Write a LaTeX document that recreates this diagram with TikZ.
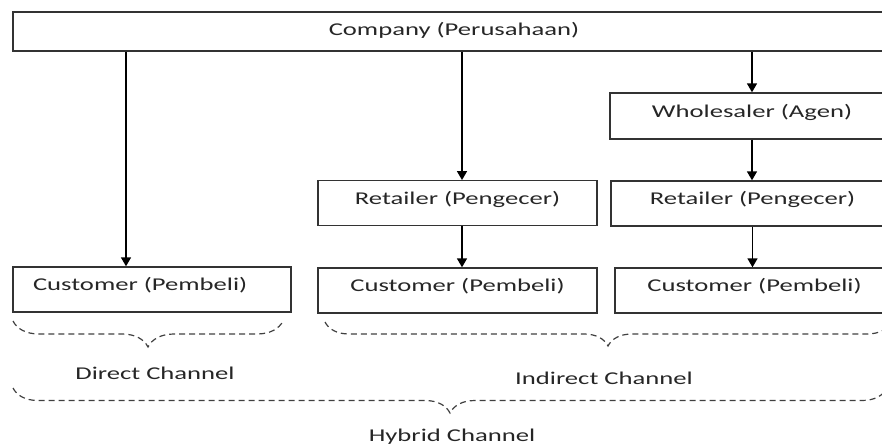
\documentclass[tikz,border=0pt]{standalone}
\usepackage{fontspec}
\setmainfont{Carlito}[FakeStretch=1.48]
\usetikzlibrary{arrows.meta,positioning,calc,decorations.pathreplacing}

\begin{document}
\begin{tikzpicture}[
    x=1pt, y=-1pt,
    >={Triangle[length=9pt,width=10pt]},
    font=\fontsize{18}{21}\selectfont,
    every node/.style={text=black!85},
    box/.style={draw=black!80, line width=1.4pt, inner sep=0pt, text height=12pt, text depth=10pt},
    flow/.style={->, line width=1.6pt},
    brc/.style={decorate, draw=black!75, line width=1.2pt, dash pattern=on 6pt off 4pt},
]
\path[use as bounding box] (0,0) rectangle (882,447);
\clip (0,0) rectangle (882,447);

% Top: the company
\node[box, minimum width=882, minimum height=39, text depth=4pt] (comp) at (454,31.5) {Company (Perusahaan)};

% Direct channel
\node[box, minimum width=278, minimum height=45, inner xsep=20pt, text width=238, align=left] (cd) at (152,289.5) {Customer (Pembeli)};

% Indirect channel, one step
\node[box, minimum width=279, minimum height=44.5] (r1) at (457.5,203) {Retailer (Pengecer)};
\node[box, minimum width=279, minimum height=45] (c1) at (457.5,290.5) {Customer (Pembeli)};

% Indirect channel, two steps
\node[box, minimum width=284, minimum height=46] (w) at (752,116) {Wholesaler (Agen)};
\node[box, minimum width=283, minimum height=45] (r2) at (752.5,203.5) {Retailer (Pengecer)};
\node[box, minimum width=279, minimum height=45] (c2) at (754.5,290.5) {Customer (Pembeli)};

% arrows
\coordinate (dd) at ([xshift=-26pt]cd.north);
\coordinate (mm) at ([xshift=4.5pt]r1.north);
\draw[flow] (comp.south -| dd) -- (dd);
\draw[flow] (comp.south -| mm) -- (mm);
\draw[flow] (r1.south -| mm) -- (c1.north -| mm);
\draw[flow] (comp.south -| w.north) -- (w.north);
\draw[flow] (w.south) -- (r2.north -| w.south);
\draw[flow] (r2.south) -- (c2.north -| r2.south);

% braces
\draw[brc, decoration={brace, mirror, amplitude=26pt}] (13,321) -- (283,321);
\node (direct) at (155,373) {Direct Channel};

\draw[brc, decoration={brace, mirror, amplitude=24pt}] (325,322) -- (891,322);
\node (indirect) at (604,378) {Indirect Channel};

\draw[brc, decoration={brace, mirror, amplitude=25pt}] (13,388) -- (887,388);
\node (hybrid) at (452,437) {Hybrid Channel};

\end{tikzpicture}
\end{document}
